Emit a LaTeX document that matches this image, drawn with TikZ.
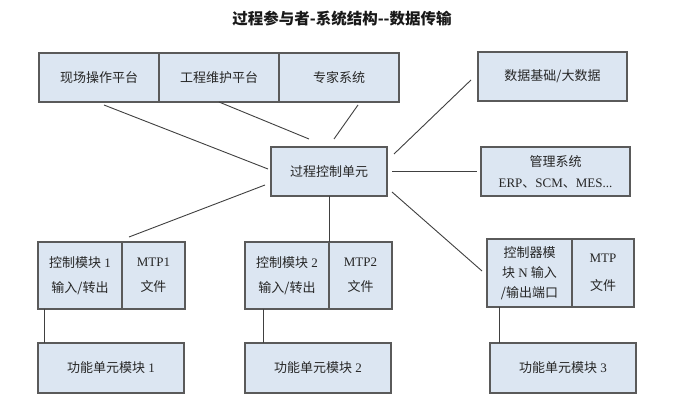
\documentclass[tikz,border=0pt]{standalone}
\usepackage{fontspec}
\setmainfont{Liberation Serif}
\newfontfamily\cjk{Noto Sans CJK SC}
\usetikzlibrary{positioning}
\definecolor{boxfill}{HTML}{DCE6F2}
\definecolor{boxline}{HTML}{5A5A5A}
\definecolor{linkline}{HTML}{404040}
\tikzset{
  unit/.style={draw=boxline, fill=boxfill, line width=1.2pt, inner sep=0pt, outer sep=0pt,
    align=center, text=black!85, font=\fontsize{13}{25}\selectfont},
  link/.style={draw=linkline, line width=0.9pt},
}
\begin{document}
\begin{tikzpicture}[x=1pt, y=-1pt]
    \useasboundingbox[fill=white] (0,0) rectangle (673,411);
    %%Tiêu đề
    \node[font=\cjk\bfseries\fontsize{15.5}{18}\selectfont, text=black!90] (title) at (342,18.5) {过程参与者-系统结构--数据传输};
    %%Hàng trên
    \node[unit, minimum width=120pt, minimum height=49pt] (fop) at (99,77.5) {\cjk 现场操作平台};
    \node[unit, minimum width=120pt, minimum height=49pt, right=0pt of fop] (emp) {\cjk 工程维护平台};
    \node[unit, minimum width=120pt, minimum height=49pt, right=0pt of emp] (exp) {\cjk 专家系统};
    \node[unit, minimum width=149pt, minimum height=49pt] (big) at (552.5,76.5) {\cjk 数据基础/大数据};
    %%Hàng giữa
    \node[unit, minimum width=116pt, minimum height=49pt] (pcu) at (329,171.5) {\cjk 过程控制单元};
    \node[unit, minimum width=149pt, minimum height=49pt, font=\fontsize{13}{21}\selectfont] (mgt) at (555.5,171.5) {{\cjk 管理系统}\\ERP{\cjk 、}SCM{\cjk 、}MES...};
    %%Các mô-đun
    \node[unit, minimum width=84pt, minimum height=67pt] (m1a) at (80,275.5) {{\cjk 控制模块} 1\\{\cjk 输入/转出}};
    \node[unit, minimum width=63pt, minimum height=67pt, right=0pt of m1a] (m1b) {MTP1\\{\cjk 文件}};
    \node[unit, minimum width=84pt, minimum height=67pt] (m2a) at (287,275.5) {{\cjk 控制模块} 2\\{\cjk 输入/转出}};
    \node[unit, minimum width=63pt, minimum height=67pt, right=0pt of m2a] (m2b) {MTP2\\{\cjk 文件}};
    \node[unit, minimum width=85pt, minimum height=68pt, font=\fontsize{13}{20}\selectfont] (mNa) at (529.5,273) {{\cjk 控制器模}\\{\cjk 块} N {\cjk 输入}\\{\cjk /输出端口}};
    \node[unit, minimum width=62pt, minimum height=68pt, font=\fontsize{13}{28}\selectfont, right=0pt of mNa] (mNb) {MTP\\{\cjk 文件}};
    %%Hàng dưới
    \node[unit, minimum width=146pt, minimum height=50pt] (f1) at (111,368) {{\cjk 功能单元模块} 1};
    \node[unit, minimum width=146pt, minimum height=50pt] (f2) at (318,368) {{\cjk 功能单元模块} 2};
    \node[unit, minimum width=146pt, minimum height=50pt] (f3) at (563,368) {{\cjk 功能单元模块} 3};
    %%Các đường nối
    \draw[link] ([xshift=5pt,yshift=-3pt]fop.south) -- ([xshift=-3pt,yshift=2.5pt]pcu.west);
    \draw[link] (emp.south) -- ([xshift=-20pt,yshift=8pt]pcu.north);
    \draw[link] ([xshift=19pt,yshift=-3pt]exp.south) -- ([xshift=5pt,yshift=8pt]pcu.north);
    \draw[link] ([xshift=-7pt,yshift=-3.5pt]big.west) -- ([xshift=7pt,yshift=-7pt]pcu.north east);
    \draw[link] ([xshift=5pt]pcu.east) -- ([xshift=-4pt]mgt.west);
    \draw[link] ([xshift=-6pt,yshift=-13.5pt]pcu.west) -- ([xshift=7pt,yshift=5pt]m1a.north east);
    \draw[link] (pcu.south) -- (m2a.north east);
    \draw[link] ([xshift=5pt,yshift=4pt]pcu.south east) -- ([xshift=-5pt,yshift=2pt]mNa.west);
    \draw[link] ([xshift=6pt]m1a.south west) -- ([xshift=6pt]f1.north west);
    \draw[link] ([xshift=18pt]m2a.south west) -- ([xshift=18pt]f2.north west);
    \draw[link] ([xshift=12pt]mNa.south west) -- ([xshift=9pt]f3.north west);
\end{tikzpicture}
\end{document}
